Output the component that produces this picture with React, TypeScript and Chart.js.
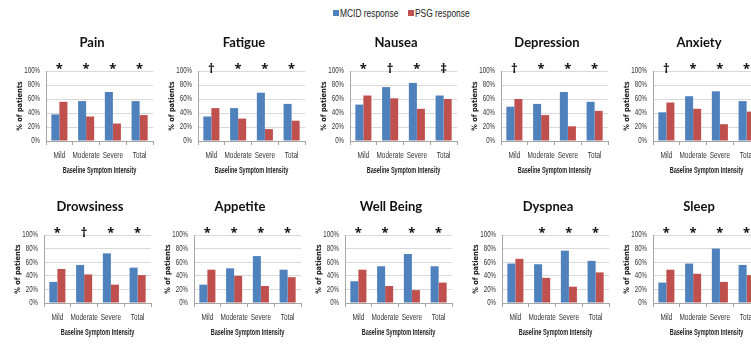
import React, { useEffect, useRef } from "react";
import { Chart, registerables } from "chart.js";

Chart.register(...registerables);

// ---------- data ----------
const categories = ["Mild", "Moderate", "Severe", "Total"];
const seriesNames = ["MCID response", "PSG response"];
const yTickValues = [0, 20, 40, 60, 80, 100];

const panelTitles = [
  "Pain", "Fatigue", "Nausea", "Depression", "Anxiety",
  "Drowsiness", "Appetite", "Well Being", "Dyspnea", "Sleep",
];

const painMcid = [38, 57, 70, 57];
const painPsg = [56, 35, 25, 37];
const painSig = ["*", "*", "*", "*"];

const fatigueMcid = [35, 47, 69, 53];
const fatiguePsg = [47, 32, 17, 29];
const fatigueSig = ["†", "*", "*", "*"];

const nauseaMcid = [52, 77, 83, 65];
const nauseaPsg = [65, 61, 46, 60];
const nauseaSig = ["*", "†", "*", "‡"];

const depressionMcid = [49, 53, 70, 56];
const depressionPsg = [60, 37, 21, 43];
const depressionSig = ["†", "*", "*", "*"];

const anxietyMcid = [41, 64, 71, 57];
const anxietyPsg = [55, 46, 24, 42];
const anxietySig = ["†", "*", "*", "*"];

const drowsinessMcid = [31, 56, 73, 52];
const drowsinessPsg = [50, 42, 27, 41];
const drowsinessSig = ["*", "†", "*", "*"];

const appetiteMcid = [27, 51, 69, 49];
const appetitePsg = [49, 40, 25, 38];
const appetiteSig = ["*", "*", "*", "*"];

const wellBeingMcid = [32, 54, 72, 54];
const wellBeingPsg = [49, 25, 19, 30];
const wellBeingSig = ["*", "*", "*", "*"];

const dyspneaMcid = [58, 57, 77, 62];
const dyspneaPsg = [65, 37, 24, 45];
const dyspneaSig = ["", "*", "*", "*"];

const sleepMcid = [30, 58, 80, 56];
const sleepPsg = [49, 43, 31, 41];
const sleepSig = ["*", "*", "*", "*"];

const mcidSeries = [painMcid, fatigueMcid, nauseaMcid, depressionMcid, anxietyMcid,
  drowsinessMcid, appetiteMcid, wellBeingMcid, dyspneaMcid, sleepMcid];
const psgSeries = [painPsg, fatiguePsg, nauseaPsg, depressionPsg, anxietyPsg,
  drowsinessPsg, appetitePsg, wellBeingPsg, dyspneaPsg, sleepPsg];
const sigMarks = [painSig, fatigueSig, nauseaSig, depressionSig, anxietySig,
  drowsinessSig, appetiteSig, wellBeingSig, dyspneaSig, sleepSig];

const xAxisTitle = "Baseline Symptom Intensity";
const yAxisTitle = "% of patients";

// ---------- layout / style ----------
const BLUE = "#4F81BD";
const RED = "#C0504D";
const TICK_FAMILY = '"Liberation Sans"';
const XTITLE_FAMILY = '"Liberation Sans", Arial';
const YTITLE_FAMILY = '"DejaVu Sans"';
const ROW_TOP = [30, 194];
const ROW_CANVAS_H = [149, 147];
const ROW_AXIS_X = [
  [46, 198, 350, 501, 653],
  [44, 194, 345, 502, 653],
];
const PLOT_W = 107;
const LEFT_SPACE = 40;
const RIGHT_PAD = 4;

// horizontal condensing of the (condensed-looking) axis text
function squeezeFor(font: string): number {
  if (font.includes("DejaVu")) return 0.88;
  if (font.includes("Arial")) return 0.65;
  if (font.includes("Liberation Sans")) return 0.68;
  return 1;
}

function patchContext(ctx: any) {
  if (ctx.__squeezed) return;
  ctx.__squeezed = true;
  const orig = CanvasRenderingContext2D.prototype.fillText;
  ctx.fillText = function (t: string, x: number, y: number, mw?: number) {
    const k = this.__noSqueeze ? 1 : squeezeFor(String(this.font));
    if (k === 1) {
      return mw === undefined ? orig.call(this, t, x, y) : orig.call(this, t, x, y, mw);
    }
    this.save();
    this.translate(x, y);
    this.scale(k, 1);
    if (mw === undefined) orig.call(this, t, 0, 0);
    else orig.call(this, t, 0, 0, mw / k);
    this.restore();
  };
}

function Panel({ index }: { index: number }) {
  const ref = useRef<HTMLCanvasElement | null>(null);
  const row = Math.floor(index / 5);
  const col = index % 5;
  const axisX = ROW_AXIS_X[row][col];
  const width = LEFT_SPACE + PLOT_W + RIGHT_PAD;
  const height = ROW_CANVAS_H[row];

  useEffect(() => {
    if (!ref.current) return;
    const title = panelTitles[index];
    const marks = sigMarks[index];
    const overlay = {
      id: "overlay" + index,
      beforeDraw(chart: any) {
        patchContext(chart.ctx);
      },
      afterDatasetsDraw(chart: any) {
        const { ctx, chartArea, scales } = chart;
        const x = scales.x;
        ctx.save();
        ctx.__noSqueeze = true;
        ctx.fillStyle = "#111";
        ctx.textAlign = "center";
        ctx.textBaseline = "alphabetic";
        ctx.font = 'bold 13px "Noto Sans", sans-serif';
        marks.forEach((m: string, i: number) => {
          if (m) ctx.fillText(m, x.getPixelForValue(i), chartArea.top + 2);
        });
        ctx.font = "bold 13px Lato, sans-serif";
        ctx.textBaseline = "middle";
        ctx.fillText(title, chartArea.left + 46, chartArea.top - 28);
        ctx.__noSqueeze = false;
        ctx.restore();
      },
    };
    const chart = new Chart(ref.current, {
      type: "bar",
      data: {
        labels: categories,
        datasets: [
          { label: seriesNames[0], data: mcidSeries[index], backgroundColor: BLUE, borderWidth: 0 },
          { label: seriesNames[1], data: psgSeries[index], backgroundColor: RED, borderWidth: 0 },
        ],
      },
      options: {
        responsive: false,
        animation: false,
        devicePixelRatio: 1,
        layout: { padding: { top: 41, left: 2, right: RIGHT_PAD, bottom: 0 } },
        datasets: { bar: { categoryPercentage: 0.6, barPercentage: 1.0 } },
        plugins: {
          legend: { display: false },
          tooltip: { enabled: false },
          title: { display: false },
        },
        scales: {
          x: {
            grid: {
              offset: true,
              drawOnChartArea: false,
              drawTicks: true,
              tickLength: 4,
              color: "#a6a6a6",
            },
            border: { color: "#a6a6a6" },
            ticks: {
              font: { family: TICK_FAMILY, size: 9.5 },
              color: "#333",
              padding: 5,
              maxRotation: 0,
              autoSkip: false,
            },
            title: {
              display: true,
              text: xAxisTitle,
              color: "#222",
              font: { family: XTITLE_FAMILY, size: 8.5, weight: "bold" },
              padding: { top: 0, bottom: 3 },
            },
            afterFit: (s: any) => { s.height = 38; },
          },
          y: {
            min: 0,
            max: 100,
            afterBuildTicks: (s: any) => { s.ticks = yTickValues.map((v) => ({ value: v })); },
            ticks: {
              callback: (v: any) => v + "%",
              font: { family: TICK_FAMILY, size: 9 },
              color: "#333",
              padding: 6,
              autoSkip: false,
            },
            grid: { color: "#d9d9d9", drawTicks: false },
            border: { color: "#a6a6a6" },
            title: {
              display: true,
              text: yAxisTitle,
              color: "#222",
              font: { family: YTITLE_FAMILY, size: 7.5, weight: "bold" },
              padding: { top: 8, bottom: 0 },
            },
            afterFit: (s: any) => { s.width = 38; },
          },
        },
      },
      plugins: [overlay],
    } as any);
    return () => chart.destroy();
  }, [index]);

  return (
    <canvas
      ref={ref}
      width={width}
      height={height}
      style={{
        position: "absolute",
        left: axisX - LEFT_SPACE,
        top: ROW_TOP[row],
        width,
        height,
      }}
    />
  );
}

export default function App() {
  const legendText: React.CSSProperties = {
    position: "absolute",
    top: 7,
    fontFamily: '"Liberation Sans", sans-serif',
    fontSize: 11.5,
    lineHeight: "13px",
    color: "#222",
    whiteSpace: "nowrap",
    transform: "scaleX(0.73)",
    transformOrigin: "left center",
  };
  const sq = (left: number, color: string): React.CSSProperties => ({
    position: "absolute",
    left,
    top: 10,
    width: 6,
    height: 6,
    background: color,
  });
  return (
    <div
      style={{
        position: "absolute",
        left: 0,
        top: 0,
        width: 751,
        height: 345,
        overflow: "hidden",
        background: "#fff",
      }}
    >
      <div style={sq(333, BLUE)} />
      <div style={{ ...legendText, left: 340 }}>{seriesNames[0]}</div>
      <div style={sq(408, RED)} />
      <div style={{ ...legendText, left: 415 }}>{seriesNames[1]}</div>
      {panelTitles.map((_, i) => (
        <Panel key={i} index={i} />
      ))}
    </div>
  );
}
